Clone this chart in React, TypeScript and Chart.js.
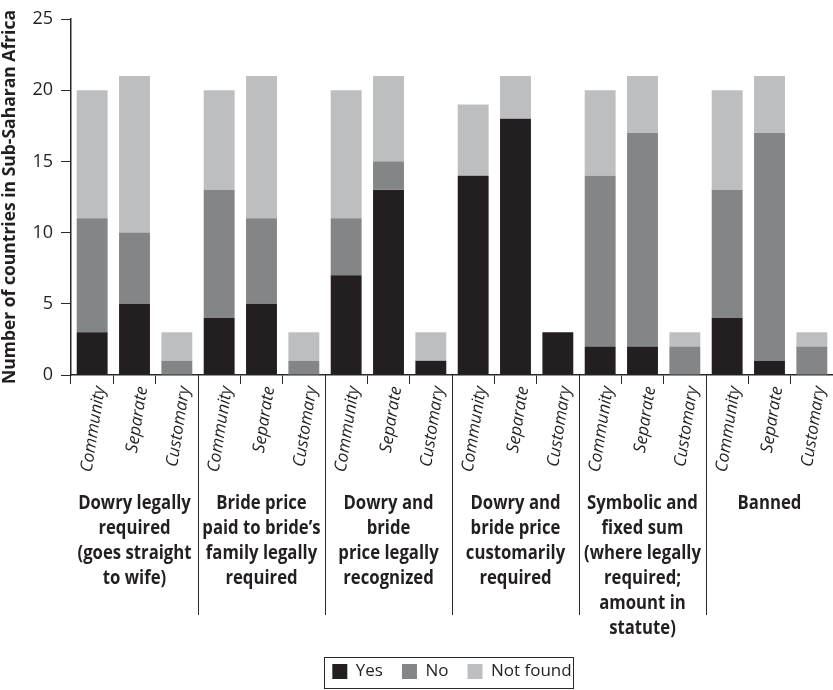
import React, { useEffect, useRef } from "react";
import { Chart, registerables } from "chart.js";

Chart.register(...registerables);

const categories = [
  "Community", "Separate", "Customary",
  "Community", "Separate", "Customary",
  "Community", "Separate", "Customary",
  "Community", "Separate", "Customary",
  "Community", "Separate", "Customary",
  "Community", "Separate", "Customary",
];

const yesValues = [3, 5, 0, 4, 5, 0, 7, 13, 1, 14, 18, 3, 2, 2, 0, 4, 1, 0];
const noValues = [8, 5, 1, 9, 6, 1, 4, 2, 0, 0, 0, 0, 12, 15, 2, 9, 16, 2];
const notFoundValues = [9, 11, 2, 7, 10, 2, 9, 6, 2, 5, 3, 0, 6, 4, 1, 7, 4, 1];

const groupLabels = [
  ["Dowry legally", "required", "(goes straight", "to wife)"],
  ["Bride price", "paid to bride\u2019s", "family legally", "required"],
  ["Dowry and", "bride", "price legally", "recognized"],
  ["Dowry and", "bride price", "customarily", "required"],
  ["Symbolic and", "fixed sum", "(where legally", "required;", "amount in", "statute)"],
  ["Banned"],
];

const yTicks = [0, 5, 10, 15, 20, 25];

const AXIS = "#2b2829";
const SANS = "'Open Sans', 'Noto Sans', sans-serif";

const groupPlugin = {
  id: "groupPlugin",
  afterDraw(chart: any) {
    const ctx = chart.ctx;
    const x = chart.scales.x;
    const area = chart.chartArea;
    ctx.save();
    // separators
    ctx.strokeStyle = AXIS;
    ctx.lineWidth = 1;
    for (let g = 1; g < groupLabels.length; g++) {
      const px = Math.round((x.getPixelForValue(3 * g - 1) + x.getPixelForValue(3 * g)) / 2) + 0.5;
      ctx.beginPath();
      ctx.moveTo(px, area.bottom);
      ctx.lineTo(px, area.bottom + 240);
      ctx.stroke();
    }
    // group labels
    ctx.fillStyle = "#231f20";
    ctx.font = `bold 19px ${SANS}`;
    ctx.textAlign = "center";
    ctx.textBaseline = "middle";
    groupLabels.forEach((lines, g) => {
      const cx = (x.getPixelForValue(3 * g) + x.getPixelForValue(3 * g + 2)) / 2;
      lines.forEach((line, i) => {
        ctx.save();
        ctx.translate(cx, area.bottom + 129 + i * 25);
        ctx.scale(0.88, 1);
        ctx.fillText(line, 0, 0);
        ctx.restore();
      });
    });
    // legend border
    const lg = chart.legend;
    if (lg && lg.legendHitBoxes && lg.legendHitBoxes.length) {
      const hb = lg.legendHitBoxes;
      let l = Infinity, r = -Infinity, t = Infinity, b = -Infinity;
      hb.forEach((h: any) => {
        l = Math.min(l, h.left);
        r = Math.max(r, h.left + h.width);
        t = Math.min(t, h.top);
        b = Math.max(b, h.top + h.height);
      });
      ctx.strokeStyle = AXIS;
      ctx.lineWidth = 1;
      ctx.strokeRect(Math.round(l - 8) + 0.5, Math.round(t - 6) + 0.5, Math.round(r - l + 10), Math.round(b - t + 14));
    }
    ctx.restore();
  },
};

export default function App() {
  const ref = useRef<HTMLCanvasElement | null>(null);
  useEffect(() => {
    if (!ref.current) return;
    const chart = new Chart(ref.current, {
      type: "bar",
      data: {
        labels: categories,
        datasets: [
          { label: "Yes", data: yesValues, backgroundColor: "#231f20", borderWidth: 0 },
          { label: "No", data: noValues, backgroundColor: "#848587", borderWidth: 0 },
          { label: "Not found", data: notFoundValues, backgroundColor: "#bdbec0", borderWidth: 0 },
        ],
      },
      options: {
        animation: false,
        responsive: true,
        maintainAspectRatio: false,
        layout: { padding: { top: 19, right: 0, bottom: 0, left: 0 } },
        datasets: { bar: { categoryPercentage: 1, barPercentage: 0.73 } },
        plugins: {
          tooltip: { enabled: false },
          legend: {
            position: "bottom",
            fullSize: false,
            labels: {
              color: "#231f20",
              font: { family: SANS, size: 17 },
              boxWidth: 15,
              boxHeight: 15,
              padding: 19,
            },
          },
        },
        scales: {
          x: {
            stacked: true,
            afterFit: (s: any) => { s.height = 269; },
            grid: {
              offset: true,
              drawOnChartArea: false,
              tickLength: 9,
              color: AXIS,
              lineWidth: 1,
            },
            border: { display: true, color: AXIS, width: 1.5 },
            ticks: {
              minRotation: 81,
              maxRotation: 81,
              padding: 1,
              labelOffset: 8,
              color: "#231f20",
              font: { family: SANS, size: 17, style: "italic" },
            },
          },
          y: {
            stacked: true,
            min: 0,
            max: 25,
            afterBuildTicks: (s: any) => { s.ticks = yTicks.map((v) => ({ value: v })); },
            afterFit: (s: any) => { s.width = 71; },
            grid: {
              drawOnChartArea: false,
              tickLength: 10,
              color: AXIS,
              lineWidth: 1,
            },
            border: { display: true, color: AXIS, width: 1.5 },
            ticks: {
              padding: 8,
              color: "#231f20",
              font: { family: SANS, size: 18 },
            },
            title: {
              display: true,
              text: "Number of countries in Sub-Saharan Africa",
              color: "#231f20",
              font: { family: SANS, size: 17.5, weight: "bold" },
              padding: { top: 0, bottom: 0 },
            },
          },
        },
      },
      plugins: [groupPlugin],
    });
    return () => chart.destroy();
  }, []);
  return (
    <div style={{ position: "absolute", left: 0, top: 0, width: 833, height: 690, background: "#fff" }}>
      <canvas ref={ref} />
    </div>
  );
}
